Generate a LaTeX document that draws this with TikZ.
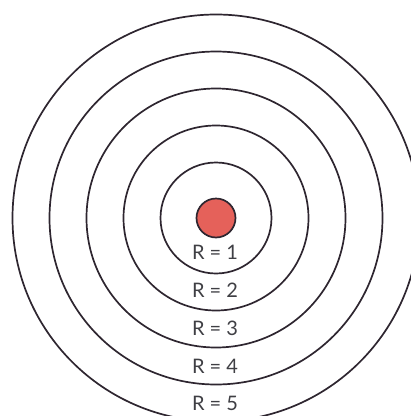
\documentclass[tikz,border=0pt]{standalone}
\usepackage{fontspec}
\setmainfont{Lato}
\definecolor{ringcol}{HTML}{2E2630}
\definecolor{dotcol}{HTML}{E5615A}
\definecolor{txtcol}{HTML}{3F3F44}
\begin{document}
\begin{tikzpicture}[x=1pt,y=-1pt,
  ring/.style={draw=ringcol,line width=1.7pt},
  lbl/.style={text=txtcol,font=\fontsize{20}{21}\selectfont,inner sep=0pt}]
\useasboundingbox (0,0) rectangle (411,416);
\clip (0,0) rectangle (411,416);
\coordinate (c) at (216,218);
\foreach \r in {55.5,92.5,129.5,166.5,203.5}
  \draw[ring] (c) circle[radius=\r];
\node[circle,draw=ringcol,line width=1.7pt,fill=dotcol,minimum size=39pt,inner sep=0pt] (dot) at (c) {};
\node[lbl] (l1) at (215,252) {R = 1};
\node[lbl] (l2) at (215,290) {R = 2};
\node[lbl] (l3) at (215,328) {R = 3};
\node[lbl] (l4) at (215,366) {R = 4};
\node[lbl] (l5) at (215,403) {R = 5};
\end{tikzpicture}
\end{document}
